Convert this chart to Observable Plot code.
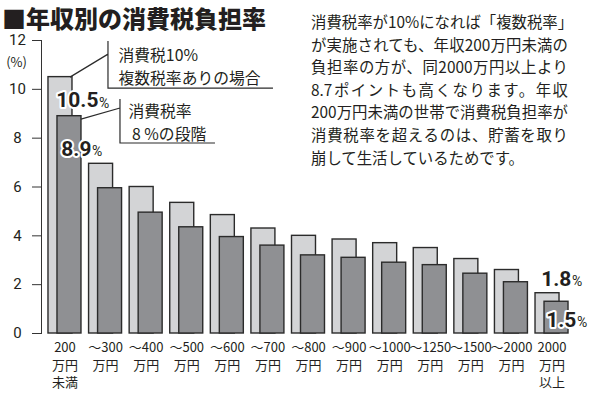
<!DOCTYPE html>
<html>
<head>
<meta charset="utf-8">
<script src="https://cdn.jsdelivr.net/npm/d3@7"></script>
<script src="https://cdn.jsdelivr.net/npm/@observablehq/plot@0.6"></script>
<style>
  body { margin: 0; background: #fff; }
  #wrap { position: relative; width: 600px; height: 396px; overflow: hidden; font-family: "Noto Sans CJK JP", "Noto Sans", sans-serif; color: #231f20; }
  #title { position: absolute; left: 2px; top: 6px; font-size: 24px; font-weight: 900; line-height: 24px; white-space: nowrap; }
  #note { position: absolute; left: 311px; top: 10px; width: 257px; font-size: 15.4px; line-height: 22.6px; }
  #note div { text-align: justify; text-align-last: justify; }
  #chart { position: absolute; left: 0; top: 0; }
</style>
</head>
<body>
<div id="wrap">
  <div id="chart"></div>
  <div id="title">■年収別の消費税負担率</div>
  <div id="note"></div>
</div>
<script>
// ---- data ----
const categories = ["200万円未満", "〜300万円", "〜400万円", "〜500万円", "〜600万円", "〜700万円", "〜800万円", "〜900万円", "〜1000万円", "〜1250万円", "〜1500万円", "〜2000万円", "2000万円以上"];
const tickLabels = ["200\n万円\n未満", "〜300\n万円", "〜400\n万円", "〜500\n万円", "〜600\n万円", "〜700\n万円", "〜800\n万円", "〜900\n万円", "〜1000\n万円", "〜1250\n万円", "〜1500\n万円", "〜2000\n万円", "2000\n万円\n以上"];
const rate10 = [10.5, 6.95, 6.0, 5.35, 4.85, 4.3, 4.0, 3.85, 3.7, 3.5, 3.05, 2.6, 1.65];   // 消費税10% 複数税率ありの場合
const rate8  = [8.9, 5.95, 4.95, 4.35, 3.95, 3.6, 3.2, 3.1, 2.9, 2.8, 2.45, 2.1, 1.3];     // 消費税率8%の段階
const yTicks = [0, 2, 4, 6, 8, 10, 12];
const seriesName10 = "消費税10%\n複数税率ありの場合";
const seriesName8 = "消費税率\n\u00a08\u00a0%の段階";
const valueLabels10 = ["10.5", "1.8"];
const valueLabels8 = ["8.9", "1.5"];
const noteLines = [
  "消費税率が10%になれば「複数税率」",
  "が実施されても、年収200万円未満の",
  "負担率の方が、同2000万円以上より",
  "8.7ポイントも高くなります。年収",
  "200万円未満の世帯で消費税負担率が",
  "消費税率を超えるのは、貯蓄を取り",
  "崩して生活しているためです。"
];

const rows = categories.map((c, i) => ({cat: c, tick: tickLabels[i], v10: rate10[i], v8: rate8[i]}));
const ink = "#231f20";
const cjk = "Noto Sans CJK JP";

function valueLabel(row, key, num, dx, dy) {
  const d = [row];
  const common = {x: "cat", y: key, fill: ink, stroke: "white", strokeWidth: 4, paintOrder: "stroke", fontFamily: "Roboto", fontWeight: "bold"};
  return [
    Plot.text(d, {...common, text: () => num, dx, dy, textAnchor: "end", fontSize: 21}),
    Plot.text(d, {...common, text: () => "%", dx: dx + 0.5, dy: dy + 2.4, textAnchor: "start", fontSize: 14, fontWeight: "normal"})
  ];
}

const last = rows.length - 1;
const plot = Plot.plot({
  width: 600,
  height: 396,
  marginTop: 40,
  marginBottom: 63,
  marginLeft: 41,
  marginRight: 25,
  style: {fontFamily: cjk, color: ink, background: "transparent"},
  x: {type: "band", domain: categories, paddingInner: 0.187, paddingOuter: 0.172, round: false, axis: null},
  y: {domain: [0, 12], axis: null},
  marks: [
    Plot.barY(rows, {x: "cat", y: "v10", fill: "#d3d4d6", stroke: "#2b2b2b", strokeWidth: 1.4, insetRight: 9}),
    Plot.barY(rows, {x: "cat", y: "v8", fill: "#8f9093", stroke: "#2b2b2b", strokeWidth: 1.4, insetLeft: 9}),
    Plot.axisY({ticks: yTicks, tickSize: 9, tickPadding: 15, textAnchor: "middle", fontSize: 15, fontFamily: "Roboto", label: null, stroke: "#333", fill: ink}),
    Plot.frame({anchor: "left", stroke: "#333"}),
    Plot.text(["(%)"], {frameAnchor: "top-left", text: d => d, dx: -25, dy: 17, textAnchor: "middle", fontSize: 13, fill: ink}),
    Plot.text(rows, {x: "cat", text: "tick", frameAnchor: "bottom", lineAnchor: "top", dy: 6, lineHeight: 1.36, fontSize: 13, fill: ink}),
    Plot.text([rows[0]], {x: "cat", y: "v10", text: () => seriesName10, dx: 53.5, dy: -12, textAnchor: "start", lineHeight: 1.46, fontSize: 15.8, fill: ink}),
    Plot.text([rows[0]], {x: "cat", y: "v8", text: () => seriesName8, dx: 63.5, dy: 5, textAnchor: "start", lineHeight: 1.46, fontSize: 15.8, fill: ink}),
    ...valueLabel(rows[0], "v10", valueLabels10[0], 33.5, 23.6),
    ...valueLabel(rows[0], "v8", valueLabels8[0], 26.5, 33.3),
    ...valueLabel(rows[last], "v10", valueLabels10[1], 19.4, -13.7),
    ...valueLabel(rows[last], "v8", valueLabels8[1], 24.4, 18.7)
  ]
});
document.getElementById("chart").appendChild(plot);

// leader lines for the series labels, placed with the plot's own scales
const sx = plot.scale("x"), sy = plot.scale("y");
const X = sx.apply ? (v => sx.apply(v)) : d3.scaleBand(sx.domain, sx.range).paddingInner(sx.paddingInner).paddingOuter(sx.paddingOuter).align(sx.align ?? 0.5);
const Y = sy.apply ? (v => sy.apply(v)) : d3.scaleLinear(sy.domain, sy.range);
const ax = X(categories[0]), a10 = Y(rate10[0]), a8 = Y(rate8[0]);
const g = d3.select(plot).append("g").attr("fill", "none").attr("stroke", "#2b2b2b").attr("stroke-width", 1.2);
g.append("path").attr("d", `M${ax + 22},${a10 + 0.5}L${ax + 60},${a10 - 22.5}M${ax + 60},${Y(12) + 1}L${ax + 60},${a10 + 11.5}L${ax + 225},${a10 + 11.5}`);
g.append("path").attr("d", `M${ax + 33},${a8 + 3.5}L${ax + 72},${a8 - 7.7}M${ax + 72},${a8 - 16.7}L${ax + 72},${a8 + 27.3}L${ax + 167},${a8 + 27.3}`);

// explanatory note
const note = document.getElementById("note");
noteLines.forEach((t, i) => {
  const div = document.createElement("div");
  div.textContent = t;
  if (i === noteLines.length - 1) div.style.textAlignLast = "left";
  note.appendChild(div);
});
</script>
</body>
</html>
